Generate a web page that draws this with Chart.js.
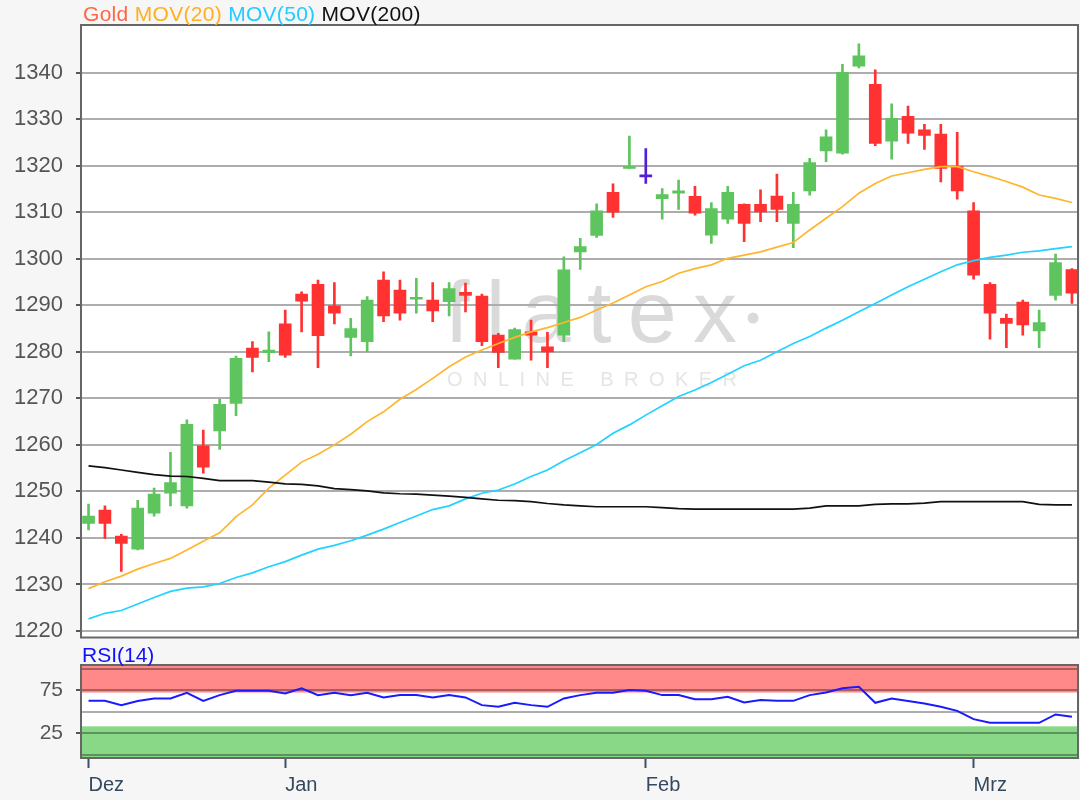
<!DOCTYPE html>
<html><head><meta charset="utf-8">
<script src="https://cdn.jsdelivr.net/npm/chart.js@4.4.1/dist/chart.umd.min.js"></script>
<style>
html,body{margin:0;padding:0;background:#f6f6f6;}
#wrap{position:relative;width:1080px;height:800px;overflow:hidden;font-family:"Liberation Sans",Arial,sans-serif;}
#legend{position:absolute;left:83px;top:3px;font-size:21px;letter-spacing:0.3px;line-height:22px;white-space:nowrap;}
#rsiTitle{position:absolute;left:82px;top:644px;font-size:21px;line-height:22px;color:#1010ff;}
canvas{position:absolute;left:0;}
#main{top:0;}
#rsi{top:645px;}
</style></head>
<body><div id="wrap">
<canvas id="main" width="1080" height="645"></canvas>
<canvas id="rsi" width="1080" height="155"></canvas>
<div id="legend"><span style="color:#ff6647">Gold</span> <span style="color:#ffb020">MOV(20)</span> <span style="color:#22ccff">MOV(50)</span> <span style="color:#111">MOV(200)</span></div>
<div id="rsiTitle">RSI(14)</div>
</div>
<script>
const dates = ['2018-12-13','2018-12-14','2018-12-17','2018-12-18','2018-12-19','2018-12-20','2018-12-21','2018-12-24','2018-12-26','2018-12-27','2018-12-28','2018-12-31',
'2019-01-02','2019-01-03','2019-01-04','2019-01-07','2019-01-08','2019-01-09','2019-01-10','2019-01-11','2019-01-14','2019-01-15','2019-01-16','2019-01-17','2019-01-18','2019-01-21','2019-01-22','2019-01-23','2019-01-24','2019-01-25','2019-01-28','2019-01-29','2019-01-30','2019-01-31',
'2019-02-01','2019-02-04','2019-02-05','2019-02-06','2019-02-07','2019-02-08','2019-02-11','2019-02-12','2019-02-13','2019-02-14','2019-02-15','2019-02-18','2019-02-19','2019-02-20','2019-02-21','2019-02-22','2019-02-25','2019-02-26','2019-02-27','2019-02-28',
'2019-03-01','2019-03-04','2019-03-05','2019-03-06','2019-03-07','2019-03-08','2019-03-11'];
const monthNames = ['Jan','Feb','Mrz','Apr','Mai','Jun','Jul','Aug','Sep','Okt','Nov','Dez'];

const open  = [1243.1,1246.0,1240.4,1237.6,1245.3,1249.6,1246.9,1259.8,1263.0,1268.9,1280.8,1279.8,1286.0,1292.4,1294.5,1289.9,1283.1,1282.2,1295.4,1293.3,1291.3,1291.1,1290.8,1292.8,1292.0,1283.6,1278.4,1284.3,1281.1,1283.6,1301.5,1305.0,1314.3,1319.4,1317.6,1312.9,1314.1,1313.4,1305.1,1308.5,1311.7,1311.7,1313.5,1307.6,1314.6,1323.2,1322.7,1341.4,1337.5,1325.3,1330.6,1327.7,1326.8,1319.8,1310.3,1294.5,1287.2,1290.7,1284.5,1292.1,1297.7];
const high  = [1247.3,1246.9,1240.8,1248.1,1250.7,1258.4,1265.4,1263.2,1269.8,1279.1,1282.2,1284.3,1289.0,1292.9,1295.4,1294.9,1287.2,1291.9,1297.2,1295.4,1295.8,1294.9,1294.9,1294.8,1292.4,1284.0,1285.1,1286.8,1284.2,1300.4,1304.4,1311.8,1316.1,1326.4,1323.7,1315.1,1316.9,1315.6,1312.1,1315.6,1311.8,1314.8,1318.2,1314.3,1321.6,1327.7,1341.8,1346.2,1340.6,1333.3,1332.8,1328.9,1328.9,1327.2,1312.1,1294.9,1288.1,1291.1,1289.0,1301.0,1297.9];
const low   = [1241.7,1239.9,1232.8,1237.4,1244.7,1246.9,1246.4,1253.9,1259.0,1266.3,1275.7,1277.9,1278.8,1284.3,1276.6,1286.0,1279.1,1280.0,1286.5,1286.8,1288.3,1286.5,1287.7,1288.6,1281.3,1276.6,1278.4,1278.2,1276.6,1282.2,1297.7,1304.6,1308.9,1319.4,1316.2,1308.5,1310.6,1309.4,1303.3,1307.6,1303.7,1308.0,1308.0,1302.4,1313.7,1320.9,1322.5,1341.0,1324.3,1321.4,1324.8,1323.5,1316.5,1312.8,1295.6,1282.7,1280.9,1283.6,1280.9,1291.1,1290.4];
const close = [1244.7,1243.1,1238.8,1246.4,1249.4,1251.9,1264.4,1255.2,1268.7,1278.6,1278.8,1280.4,1279.3,1290.9,1283.5,1288.3,1285.0,1291.1,1287.7,1288.3,1291.6,1288.8,1293.6,1292.1,1282.2,1279.9,1284.8,1283.6,1280.0,1297.6,1302.6,1310.3,1310.0,1319.8,1317.6,1313.8,1314.6,1309.8,1310.8,1314.3,1307.6,1310.1,1310.6,1311.7,1320.7,1326.2,1340.1,1343.6,1324.8,1330.2,1327.0,1326.5,1319.4,1314.6,1296.5,1288.3,1286.1,1285.8,1286.3,1299.2,1292.6];

const mov20  = [1229.1,1230.6,1231.8,1233.3,1234.5,1235.6,1237.4,1239.3,1241.1,1244.6,1247.1,1250.7,1253.5,1256.3,1258.0,1260.0,1262.3,1265.0,1267.1,1269.8,1271.9,1274.3,1276.8,1278.9,1280.4,1281.8,1283.1,1284.3,1285.2,1286.3,1287.4,1289.0,1290.5,1292.2,1294.0,1295.1,1296.9,1297.9,1298.7,1300.1,1300.8,1301.5,1302.5,1303.5,1306.2,1308.7,1311.2,1314.1,1316.2,1317.8,1318.5,1319.2,1319.8,1319.8,1318.7,1317.7,1316.6,1315.4,1313.7,1313.0,1312.1];
const mov50  = [1222.6,1223.8,1224.4,1225.8,1227.2,1228.5,1229.2,1229.5,1230.2,1231.5,1232.5,1233.8,1234.9,1236.3,1237.6,1238.4,1239.4,1240.6,1241.9,1243.3,1244.7,1246.1,1246.9,1248.4,1249.6,1250.3,1251.6,1253.2,1254.6,1256.6,1258.3,1260.1,1262.5,1264.3,1266.4,1268.4,1270.4,1271.8,1273.4,1275.2,1277.0,1278.2,1280.0,1281.8,1283.3,1285.1,1286.8,1288.6,1290.4,1292.2,1294.0,1295.6,1297.2,1298.7,1299.6,1300.3,1300.8,1301.4,1301.7,1302.2,1302.6];
const mov200 = [1255.5,1255.1,1254.6,1254.1,1253.6,1253.3,1253.2,1252.8,1252.3,1252.3,1252.3,1252.0,1251.6,1251.5,1251.2,1250.6,1250.4,1250.1,1249.7,1249.5,1249.4,1249.2,1249.0,1248.7,1248.4,1248.1,1248.0,1247.8,1247.4,1247.1,1246.9,1246.7,1246.7,1246.7,1246.7,1246.5,1246.3,1246.2,1246.2,1246.2,1246.2,1246.2,1246.2,1246.2,1246.4,1246.9,1246.9,1246.9,1247.2,1247.3,1247.3,1247.5,1247.8,1247.8,1247.8,1247.8,1247.8,1247.8,1247.2,1247.1,1247.1];
const rsi14  = [62.8,62.8,57.8,62.5,65.6,65.6,72.2,62.8,69.5,74.6,74.6,74.6,71.5,77.4,69.5,72.2,69.5,72.2,66.8,69.5,69.5,66.8,69.5,66.8,57.8,55.8,60.5,57.8,55.8,65.6,69.5,72.2,72.2,75.4,74.6,69.5,69.5,64.8,64.8,67.6,60.9,63.7,62.8,62.8,69.5,72.6,77.4,79.3,60.5,65.6,62.5,59.8,55.8,51.1,41.4,37.1,37.1,37.1,37.1,46.9,44.1];

const priceTicks = [1220,1230,1240,1250,1260,1270,1280,1290,1300,1310,1320,1330,1340];
const rsiGridValues = [0,25,50,75,100];
const rsiTickLabels = [25,75];
const rsiOverbought = [72.5, 110];
const rsiOversold = [-10, 33];

const FONT = '"Liberation Sans", Arial, sans-serif';
const GREEN = '#5ec45e', RED = '#ff3131', PURPLE = '#5020d8';
const idx = dates.map((d, i) => i);
const candleColor = idx.map(i => close[i] > open[i] ? GREEN : (close[i] < open[i] ? RED : PURPLE));
const monthStarts = idx.filter(i => i === 0 || dates[i].slice(5, 7) !== dates[i - 1].slice(5, 7));
const monthLabel = {};
monthStarts.forEach(i => { monthLabel[i] = monthNames[parseInt(dates[i].slice(5, 7), 10) - 1]; });
const X_MIN = -0.46, X_MAX = 60.37;

function spacedText(ctx, text, x, y, width) {
  ctx.letterSpacing = '0px';
  const w0 = ctx.measureText(text).width;
  const sp = (width - w0) / (text.length - 1);
  ctx.letterSpacing = sp + 'px';
  ctx.fillText(text, x, y);
  ctx.letterSpacing = '0px';
}
function noPad(s) { s.paddingTop = 0; s.paddingBottom = 0; s.paddingLeft = 0; s.paddingRight = 0; }

const frame = {
  id: 'frame',
  beforeDraw(chart, args, opts) {
    const { ctx, chartArea: a } = chart;
    ctx.save();
    ctx.fillStyle = '#ffffff';
    ctx.fillRect(a.left, a.top, a.right - a.left, a.bottom - a.top);
    if (opts.bands) {
      const ys = chart.scales.y;
      ctx.beginPath(); ctx.rect(a.left, a.top, a.right - a.left, a.bottom - a.top); ctx.clip();
      const drawBand = (b, col) => {
        const y1 = ys.getPixelForValue(b[1]), y0 = ys.getPixelForValue(b[0]);
        ctx.fillStyle = col; ctx.fillRect(a.left, y1, a.right - a.left, y0 - y1);
      };
      drawBand(rsiOverbought, '#ff8888');
      drawBand(rsiOversold, '#88d888');
    }
    if (opts.watermark) {
      ctx.fillStyle = '#dadada';
      ctx.font = '88px ' + FONT;
      ctx.textBaseline = 'alphabetic';
      spacedText(ctx, 'flatex', 445, 342, 292);
      ctx.beginPath(); ctx.arc(753, 318, 5.5, 0, Math.PI * 2); ctx.fill();
      ctx.fillStyle = '#e5e5e5';
      ctx.font = '20px ' + FONT;
      spacedText(ctx, 'ONLINE BROKER', 447, 386, 290);
    }
    ctx.restore();
  },
  afterDraw(chart) {
    const { ctx, chartArea: a } = chart;
    ctx.save();
    ctx.strokeStyle = '#666';
    ctx.lineWidth = 2;
    ctx.strokeRect(a.left, a.top, a.right - a.left, a.bottom - a.top);
    ctx.restore();
  }
};

Chart.defaults.font.family = FONT;

new Chart(document.getElementById('main'), {
  type: 'bar',
  data: {
    datasets: [
      { type: 'line', label: 'MOV(200)', data: idx.map(i => ({ x: i, y: mov200[i] })), borderColor: '#111', borderWidth: 1.7, pointRadius: 0, order: 0 },
      { type: 'line', label: 'MOV(50)', data: idx.map(i => ({ x: i, y: mov50[i] })), borderColor: '#22d2ff', borderWidth: 1.7, pointRadius: 0, order: 0 },
      { type: 'line', label: 'MOV(20)', data: idx.map(i => ({ x: i, y: mov20[i] })), borderColor: '#ffb52e', borderWidth: 1.7, pointRadius: 0, order: 0 },
      { type: 'bar', label: 'Gold', data: idx.map(i => ({ x: i, y: [open[i], close[i]] })), backgroundColor: candleColor, barThickness: 12, minBarLength: 2, grouped: false, order: 1 },
      { type: 'bar', label: 'Gold range', data: idx.map(i => ({ x: i, y: [low[i], high[i]] })), backgroundColor: candleColor, barThickness: 2, grouped: false, order: 2 }
    ]
  },
  options: {
    responsive: false, animation: false, devicePixelRatio: 1,
    layout: { padding: { top: 25, right: 2, bottom: 7.5, left: 0 } },
    plugins: { legend: { display: false }, tooltip: { enabled: false }, frame: { watermark: true } },
    scales: {
      x: { type: 'linear', min: X_MIN, max: X_MAX, offset: false, display: false, afterFit: noPad },
      y: {
        min: 1218.6, max: 1350.25,
        afterBuildTicks: s => { s.ticks = priceTicks.map(v => ({ value: v })); },
        afterFit: s => { s.width = 81; noPad(s); },
        grid: { color: '#adadad', lineWidth: 2, tickLength: 5, tickColor: '#555', tickWidth: 2 },
        border: { display: false },
        ticks: { autoSkip: false, font: { size: 22 }, color: '#555', padding: 13, callback: v => String(v) }
      }
    }
  },
  plugins: [frame]
});

new Chart(document.getElementById('rsi'), {
  type: 'line',
  data: {
    datasets: [
      { label: 'RSI(14)', data: idx.map(i => ({ x: i, y: rsi14[i] })), borderColor: '#1a1aff', borderWidth: 2, pointRadius: 0 }
    ]
  },
  options: {
    responsive: false, animation: false, devicePixelRatio: 1,
    layout: { padding: { top: 20, right: 2, bottom: 0, left: 0 } },
    plugins: { legend: { display: false }, tooltip: { enabled: false }, frame: { bands: true } },
    scales: {
      x: {
        type: 'linear', min: X_MIN, max: X_MAX, offset: false,
        afterBuildTicks: s => { s.ticks = monthStarts.map(i => ({ value: i })); },
        afterFit: s => { s.height = 42; noPad(s); },
        grid: { drawOnChartArea: false, tickLength: 10, tickColor: '#3d5166', tickWidth: 2 },
        border: { display: false },
        ticks: { align: 'start', autoSkip: false, maxRotation: 0, font: { size: 20 }, color: '#34495e', padding: 5,
                 callback: v => monthLabel[v] }
      },
      y: {
        min: -4, max: 104.7,
        afterBuildTicks: s => { s.ticks = rsiGridValues.map(v => ({ value: v })); },
        afterFit: s => { s.width = 81; noPad(s); },
        grid: { color: 'rgba(0,0,0,0.32)', lineWidth: 2, tickLength: 5, tickWidth: 2,
                tickColor: c => (c.tick && rsiTickLabels.includes(c.tick.value)) ? '#555' : 'rgba(0,0,0,0)' },
        border: { display: false },
        ticks: { autoSkip: false, font: { size: 21 }, color: '#555', padding: 13, callback: v => rsiTickLabels.includes(v) ? String(v) : '' }
      }
    }
  },
  plugins: [frame]
});
</script>
</body></html>
